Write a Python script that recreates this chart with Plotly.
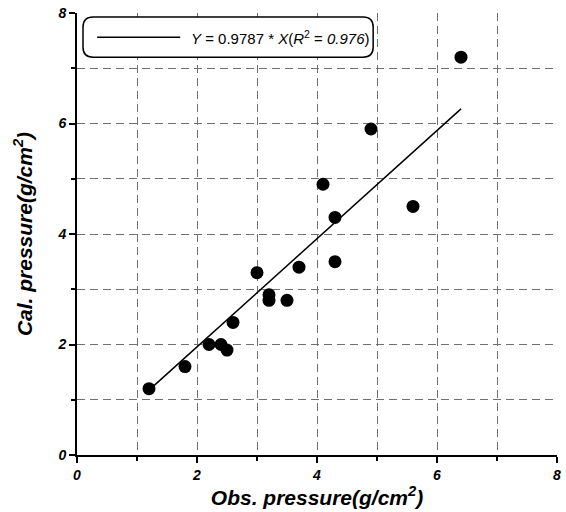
import plotly.graph_objects as go

# ---- data ----
obs_pressure = [1.2, 1.8, 2.2, 2.4, 2.5, 2.6, 3.0, 3.2, 3.2, 3.5, 3.7, 4.1, 4.3, 4.3, 4.9, 5.6, 6.4]
cal_pressure = [1.2, 1.6, 2.0, 2.0, 1.9, 2.4, 3.3, 2.9, 2.8, 2.8, 3.4, 4.9, 4.3, 3.5, 5.9, 4.5, 7.2]
fit_slope = 0.9787
fit_r2 = 0.976
tick_values = [0, 2, 4, 6, 8]
tick_labels = ["0", "2", "4", "6", "8"]

fit_x = [min(obs_pressure), max(obs_pressure)]
fit_y = [fit_slope * v for v in fit_x]

FONT = "Liberation Sans, Arial, sans-serif"

fig = go.Figure()
fig.add_trace(go.Scatter(
    x=fit_x, y=fit_y, mode="lines",
    line=dict(color="black", width=1.5), showlegend=False, hoverinfo="skip"))
fig.add_trace(go.Scatter(
    x=obs_pressure, y=cal_pressure, mode="markers", cliponaxis=False,
    marker=dict(color="black", size=13, line=dict(width=0)), showlegend=False))

grid_common = dict(showgrid=True, gridcolor="#707070", gridwidth=1, griddash="8px,5px")

axis_common = dict(
    range=[0, 8], tickvals=tick_values, ticktext=tick_labels,
    showline=True, linecolor="black", linewidth=2,
    ticks="outside", ticklen=6, tickwidth=2, tickcolor="black",
    zeroline=False, automargin=False,
    tickfont=dict(family=FONT, size=14, color="black", weight="bold", style="italic"),
    minor=dict(dtick=1, ticks="outside", ticklen=4, tickwidth=1.5, tickcolor="black",
               showgrid=True, gridcolor="#707070", gridwidth=1, griddash="8px,5px"),
    **grid_common,
)

fig.update_xaxes(
    **axis_common,
    title=dict(text="Obs. pressure(g/cm<sup>2</sup>)", standoff=4,
               font=dict(family=FONT, size=21, color="black", weight="bold", style="italic")),
)
fig.update_yaxes(
    **axis_common,
    title=dict(text="Cal. pressure(g/cm<sup>2</sup>)", standoff=19,
               font=dict(family=FONT, size=21, color="black", weight="bold", style="italic")),
)

# legend box (rounded)
x0, x1 = 0.0125, 0.617
y0, y1 = 0.900, 0.991
rx, ry = 0.021, 0.023
path = (f"M {x0+rx},{y0} L {x1-rx},{y0} Q {x1},{y0} {x1},{y0+ry} "
        f"L {x1},{y1-ry} Q {x1},{y1} {x1-rx},{y1} L {x0+rx},{y1} "
        f"Q {x0},{y1} {x0},{y1-ry} L {x0},{y0+ry} Q {x0},{y0} {x0+rx},{y0} Z")
fig.add_shape(type="path", path=path, xref="paper", yref="paper",
              line=dict(color="black", width=1.5), fillcolor="white", layer="above")
fig.add_shape(type="line", xref="paper", yref="paper", x0=0.042, x1=0.215, y0=0.945, y1=0.945,
              line=dict(color="black", width=1.5), layer="above")
fig.add_annotation(
    xref="paper", yref="paper", x=0.233, y=0.945, xanchor="left", yanchor="middle",
    showarrow=False,
    text=f"<i>Y</i> = {fit_slope} * <i>X</i>(<i>R</i><sup>2</sup> = <i>{fit_r2}</i>)",
    font=dict(family=FONT, size=15, color="black"))

fig.update_layout(
    width=566, height=512,
    margin=dict(l=77, r=9, t=13, b=57, autoexpand=False),
    plot_bgcolor="white", paper_bgcolor="white",
    showlegend=False,
)

# remove the default 8px page margin so the 566x512 figure fills the window
fig.write_html("out.html", config={"displayModeBar": False},
               post_script="document.body.style.margin='0';document.body.style.overflow='hidden';")
